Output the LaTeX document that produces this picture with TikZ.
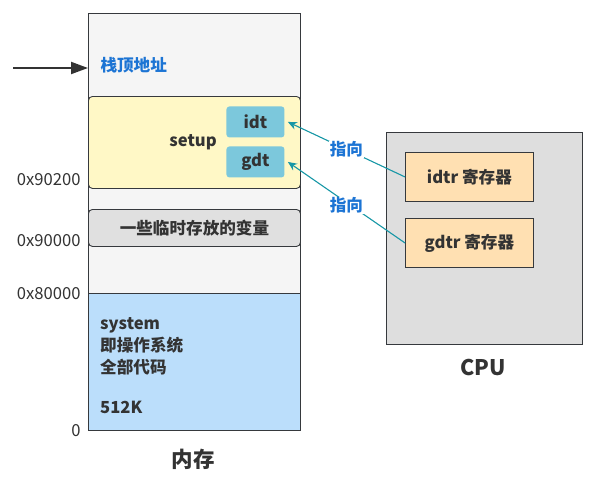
\documentclass[tikz,border=0pt]{standalone}
\usepackage{fontspec}
\setmainfont{Noto Sans CJK SC}
\usetikzlibrary{arrows.meta}

\definecolor{edge}{HTML}{36393D}
\definecolor{ink}{HTML}{333333}
\definecolor{memgray}{HTML}{F5F5F5}
\definecolor{setupyellow}{HTML}{FFF8C6}
\definecolor{tabblue}{HTML}{7CC8DC}
\definecolor{tmpgray}{HTML}{E0E0E0}
\definecolor{sysblue}{HTML}{BBDEFB}
\definecolor{cpugray}{HTML}{DEDEDE}
\definecolor{regorange}{HTML}{FFE0B2}
\definecolor{linkteal}{HTML}{1797A6}
\definecolor{labelblue}{HTML}{1C74D4}

\begin{document}
\begin{tikzpicture}[%
      x=1pt, y=-1pt,
      box/.style={draw=edge, line width=0.9pt, inner sep=0pt, anchor=north west},
      txt/.style={text=ink, font=\bfseries\fontsize{16.6}{19}\selectfont},
      addr/.style={text=ink, anchor=east, font=\fontsize{16.6}{19}\selectfont},
      title/.style={text=ink, font=\bfseries\fontsize{21.5}{24}\selectfont},
      ptr/.style={color=linkteal, line width=1.1pt, -{Stealth[length=9pt,width=8pt]}},
      ptrlabel/.style={fill=white, inner sep=1pt, text=labelblue, font=\bfseries\fontsize{16.6}{19}\selectfont},
      ]
      \useasboundingbox (0,0) rectangle (593,482);

      % memory column
      \node [box, fill=memgray, minimum width=212pt, minimum height=417pt] (mem) at (88,13) {};
      \node [box, fill=sysblue, minimum width=212pt, minimum height=137pt] (sys) at (88,293) {};
      \node [box, fill=setupyellow, rounded corners=4pt, minimum width=212pt, minimum height=92pt] (setup) at (88,96) {};
      \node [box, fill=tmpgray, rounded corners=4pt, minimum width=212pt, minimum height=37pt] (tmp) at (88,209) {};
      \node [box, draw=none, fill=tabblue, rounded corners=3pt, minimum width=58pt, minimum height=31pt] (idt) at (226,106) {};
      \node [box, draw=none, fill=tabblue, rounded corners=3pt, minimum width=58pt, minimum height=31pt] (gdt) at (226,146) {};

      \node [txt] at (idt.center) {idt};
      \node [txt] at (gdt.center) {gdt};
      \node [txt] at (193,142) {setup};
      \node [txt] at (tmp.center) {一些临时存放的变量};
      \node [txt, anchor=north west, align=left, inner sep=0pt,
             font=\bfseries\fontsize{16.6}{22}\selectfont] (systxt) at (100,317)
            {system\\即操作系统\\全部代码\\[18pt]512K};
      \node [anchor=west, text=labelblue, font=\bfseries\fontsize{16.6}{19}\selectfont] (sptxt) at (97,65) {栈顶地址};

      % addresses
      \node [addr] (a1) at (84,180) {0x90200};
      \node [addr] (a2) at (84,241) {0x90000};
      \node [addr] (a3) at (84,294) {0x80000};
      \node [addr] (a4) at (84,431) {0};
      \node [title] (memtitle) at (193,459) {内存};

      % stack pointer
      \coordinate (sp) at (13,68);
      \draw [color=ink, line width=2pt, -{Triangle[length=17pt,width=12pt]}] (sp) -- (sp -| mem.west);

      % cpu
      \node [box, fill=cpugray, minimum width=196pt, minimum height=212pt] (cpu) at (386,132) {};
      \node [box, fill=regorange, minimum width=128pt, minimum height=49pt] (idtr) at (405,152) {};
      \node [box, fill=regorange, minimum width=128pt, minimum height=49pt] (gdtr) at (405,218) {};
      \node [txt] at (idtr.center) {idtr 寄存器};
      \node [txt] at (gdtr.center) {gdtr 寄存器};
      \node [title] (cputitle) at (483,367) {CPU};

      % pointers
      \draw [ptr] (idtr.west) -- node [ptrlabel] {指向} ([xshift=3pt]idt.east);
      \draw [ptr] (gdtr.west) -- node [ptrlabel, yshift=-3pt] {指向} ([xshift=3pt]gdt.east);
\end{tikzpicture}
\end{document}
